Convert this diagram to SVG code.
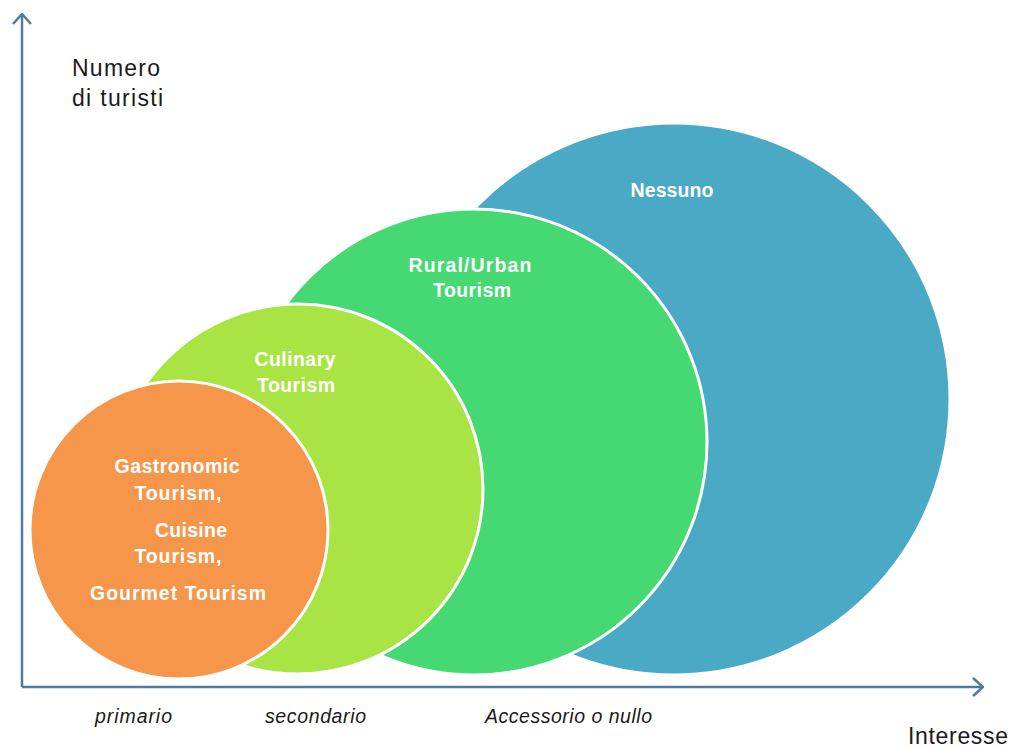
<svg xmlns="http://www.w3.org/2000/svg" width="1011" height="747" viewBox="0 0 1011 747">
<style>
.circ{stroke:#fff;stroke-width:3}
.lbl{font-family:"Liberation Sans",Arial,sans-serif;font-weight:bold;font-size:19.5px;fill:#fff;text-anchor:middle}
.ax{font-family:"Liberation Sans",Arial,sans-serif;font-size:23px;fill:#1a1a1a}
.it{font-family:"Liberation Sans",Arial,sans-serif;font-style:italic;font-size:19.5px;fill:#1a1a1a}
.axis{stroke:#4f7aa3;stroke-width:2.5;fill:none}
</style>
<defs>
<marker id="arr" viewBox="0 0 12 20" refX="11" refY="10" markerWidth="12" markerHeight="20" markerUnits="userSpaceOnUse" orient="auto">
<path d="M1,1 L11,10 L1,19" fill="none" stroke="#4f7aa3" stroke-width="2.5"/>
</marker>
</defs>
<rect width="1011" height="747" fill="#fff"/>
<g id="connectors">
<path class="axis" d="M22,687 L22,14" marker-end="url(#arr)"/>
<path class="axis" d="M22,687 L983,687" marker-end="url(#arr)"/>
</g>
<g id="nessuno">
<circle class="circ" cx="674" cy="399" r="276" fill="#4aaac5"/>
<text class="lbl" x="672" y="197" textLength="83">Nessuno</text>
</g>
<g id="rural">
<circle class="circ" cx="474" cy="442" r="233" fill="#46d872"/>
<text class="lbl" x="470" y="272" textLength="123">Rural/Urban</text>
<text class="lbl" x="472" y="297" textLength="78">Tourism</text>
</g>
<g id="culinary">
<circle class="circ" cx="298" cy="489" r="185" fill="#a8e544"/>
<text class="lbl" x="295" y="366" textLength="81">Culinary</text>
<text class="lbl" x="296" y="392" textLength="78">Tourism</text>
</g>
<g id="gastronomic">
<circle class="circ" cx="179" cy="530" r="149" fill="#f6964a"/>
<text class="lbl" x="177" y="473" textLength="125">Gastronomic</text>
<text class="lbl" x="178" y="500" textLength="87">Tourism,</text>
<text class="lbl" x="191" y="537" textLength="72">Cuisine</text>
<text class="lbl" x="178" y="563" textLength="87">Tourism,</text>
<text class="lbl" x="178" y="600" textLength="176">Gourmet Tourism</text>
</g>
<g id="labels">
<text class="ax" x="72" y="76" textLength="88">Numero</text>
<text class="ax" x="72" y="106" textLength="91">di turisti</text>
<text class="it" x="95" y="723" textLength="77">primario</text>
<text class="it" x="265" y="723" textLength="101">secondario</text>
<text class="it" x="485" y="723" textLength="167">Accessorio o nullo</text>
<text class="ax" x="908" y="744" textLength="100">Interesse</text>
</g>
</svg>
